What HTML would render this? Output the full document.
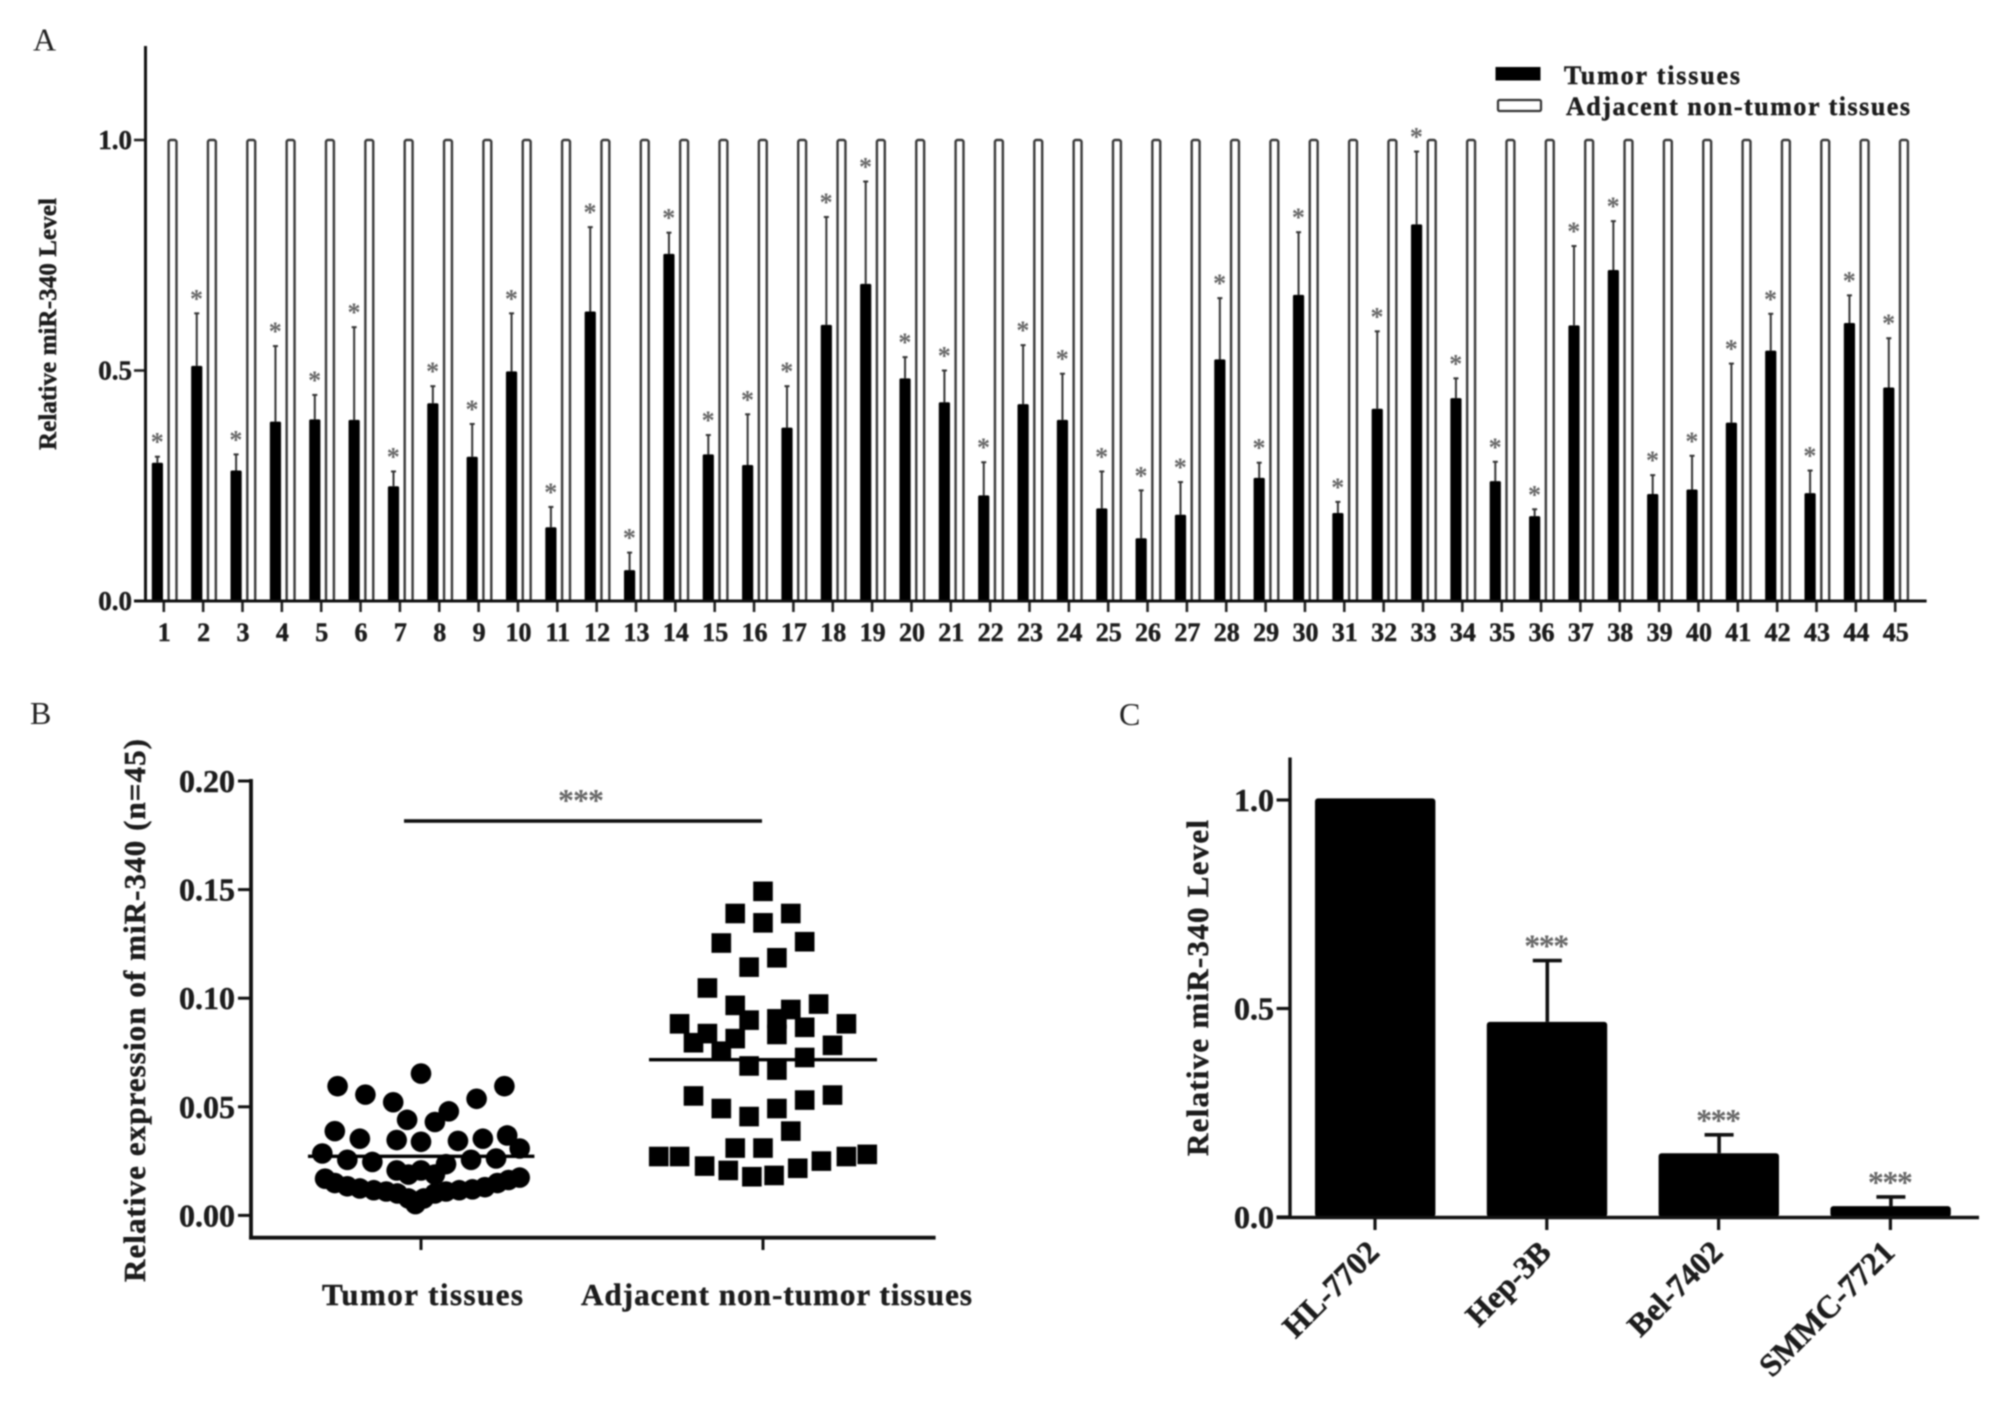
<!DOCTYPE html>
<html lang="en">
<head>
<meta charset="utf-8">
<title>miR-340 expression figure</title>
<style>
  html,body{margin:0;padding:0;background:#fff;}
  svg{display:block;filter:blur(0.9px);}
  text{font-family:"Liberation Serif",serif;}
  .b{font-weight:bold;fill:#1c1c1c;stroke:#1c1c1c;stroke-width:0.45px;}
  .star{font-weight:bold;fill:#666;}
  .letter{fill:#222;font-size:32px;}
</style>
</head>
<body>
<svg id="fig" xmlns="http://www.w3.org/2000/svg" width="2008" height="1417" viewBox="0 0 2008 1417">
  <rect x="0" y="0" width="2008" height="1417" fill="#fff"/>

  <text class="letter" x="33" y="50.5">A</text>
  <text class="letter" x="30" y="724">B</text>
  <text class="letter" x="1119" y="725">C</text>

  <g id="panelA">
    <text class="b" font-size="25" transform="translate(56,450) rotate(-90)" textLength="252" lengthAdjust="spacing">Relative miR-340 Level</text>
    <g>
      <rect x="1495.5" y="67" width="45" height="13.5" fill="#000"/>
      <text class="b" x="1564" y="84" font-size="26" textLength="176" lengthAdjust="spacing">Tumor tissues</text>
      <rect x="1498" y="100" width="43" height="11" fill="#fff" stroke="#333" stroke-width="2.2" rx="1.5"/>
      <text class="b" x="1566" y="115" font-size="26" textLength="344" lengthAdjust="spacing">Adjacent non-tumor tissues</text>
    </g>
  </g>

  <g id="panelB">
    <text class="b" font-size="31" transform="translate(145,1282) rotate(-90)" textLength="543" lengthAdjust="spacing">Relative expression of miR-340 (n=45)</text>
    <rect x="404" y="819.2" width="358" height="3.6" fill="#111"/>
    <text class="star" x="581" y="811" font-size="32" text-anchor="middle" textLength="46" lengthAdjust="spacing">***</text>
  </g>

  <g id="panelC">
    <text class="b" font-size="31" transform="translate(1208,1156) rotate(-90)" textLength="336" lengthAdjust="spacing">Relative miR-340 Level</text>
  </g>
</svg>

<script>
// ---- Panel A data ----
const aCategories = ["1","2","3","4","5","6","7","8","9","10","11","12","13","14","15","16","17","18","19","20","21","22","23","24","25","26","27","28","29","30","31","32","33","34","35","36","37","38","39","40","41","42","43","44","45"];
const aTumorValues = [0.30,0.51,0.283,0.389,0.394,0.393,0.249,0.429,0.313,0.498,0.16,0.628,0.067,0.753,0.318,0.295,0.376,0.599,0.688,0.483,0.431,0.229,0.427,0.393,0.201,0.136,0.187,0.524,0.267,0.664,0.191,0.417,0.817,0.44,0.26,0.184,0.598,0.718,0.232,0.242,0.387,0.543,0.234,0.603,0.463];
const aTumorUpper = [0.313,0.624,0.318,0.553,0.447,0.594,0.281,0.466,0.384,0.624,0.204,0.811,0.105,0.799,0.36,0.405,0.466,0.833,0.91,0.529,0.50,0.301,0.555,0.493,0.281,0.24,0.258,0.657,0.30,0.80,0.215,0.585,0.975,0.483,0.302,0.199,0.77,0.824,0.273,0.315,0.515,0.623,0.283,0.663,0.57];
const aAdjacentValues = [1,1,1,1,1,1,1,1,1,1,1,1,1,1,1,1,1,1,1,1,1,1,1,1,1,1,1,1,1,1,1,1,1,1,1,1,1,1,1,1,1,1,1,1,1];
const aTicks = ["0.0","0.5","1.0"];

// ---- Panel B data ----
const bTicks = ["0.00","0.05","0.10","0.15","0.20"];
const bCategories = ["Tumor tissues","Adjacent non-tumor tissues"];
const bTumorValues = [0.0653,0.0595,0.0595,0.0556,0.0537,0.0521,0.0479,0.044,0.043,0.0388,0.0368,0.0353,0.0353,0.0347,0.0343,0.0339,0.0285,0.0308,0.0256,0.0246,0.0256,0.0262,0.0236,0.0207,0.0207,0.0188,0.0188,0.0169,0.0149,0.0134,0.0124,0.0116,0.011,0.0101,0.0078,0.0052,0.0078,0.0101,0.011,0.0116,0.012,0.013,0.0149,0.0163,0.0174];
const bTumorSwarmSlots = [0,-6,6,-4,4,-2,2,-1,1,-6.2,6.2,-4.4,4.45,-1.75,2.66,0,-7.1,7.1,-5.3,-3.5,3.6,5.4,1.8,-1.75,0,-0.9,1,-6.9,-6.2,-5.3,-4.4,-3.4,-2.5,-1.7,-0.9,-0.4,0.2,1,1.8,2.75,3.7,4.6,5.5,6.3,7.1];
const bAdjacentValues = [0.1492,0.139,0.139,0.1347,0.1254,0.126,0.1186,0.1143,0.1047,0.0973,0.0967,0.0948,0.0882,0.0882,0.0899,0.0905,0.0866,0.0837,0.0833,0.0814,0.0795,0.0783,0.0756,0.0727,0.0688,0.0669,0.055,0.0554,0.0531,0.0492,0.0492,0.0455,0.0388,0.031,0.031,0.0271,0.0271,0.0281,0.0271,0.025,0.0217,0.0227,0.0207,0.0178,0.0184];
const bAdjacentSwarmSlots = [0,-2,2,0,-3,3,1,-1,-4,4,-2,2,6,-6,-1,1,3,-4,1,-2,-5,5,-3,3,-1,1,-5,5,3,-3,1,-1,2,-2,0,-7.5,-6,7.5,6,4.2,2.5,-4.2,-2.5,-0.8,0.8];
const bTumorMean = 0.0272;
const bAdjacentMean = 0.0717;

// ---- Panel C data ----
const cCategories = ["HL-7702","Hep-3B","Bel-7402","SMMC-7721"];
const cValues = [1.004,0.468,0.153,0.026];
const cUpper = [1.004,0.615,0.197,0.048];
const cTicks = ["0.0","0.5","1.0"];
const cStars = ["","***","***","***"];

const NS = "http://www.w3.org/2000/svg";

function add(parent, tag, attrs, text) {
  const el = document.createElementNS(NS, tag);
  for (const k in attrs) el.setAttribute(k, attrs[k]);
  if (text !== undefined) el.textContent = text;
  parent.appendChild(el);
  return el;
}

// ---- axis functions ----
const aY = v => 601 - v * 461;
const aX = i => 163.8 + i * 39.35;
const bY = v => 1215.4 - v * 2172;
const bX = i => 421 + i * 342;
const bSlot = s => s * 13.9;
const cY = v => 1217 - v * 417;
const cX = i => 1375 + i * 171.8;

// ---- Panel A ----
(function () {
  const g = document.getElementById("panelA");
  aCategories.forEach(function (c, i) {
    const tick = aX(i);
    const open = add(g, "rect", {x: tick + 4.8, y: aY(aAdjacentValues[i]), width: 7.9, height: aY(0) - aY(aAdjacentValues[i]), rx: 2, fill: "#fff", stroke: "#3a3a3a", "stroke-width": 2.4});
    
    

    const wx = tick - 6.4;
    const w = add(g, "line", {x1: wx, x2: wx, y1: aY(aTumorUpper[i]), y2: aY(aTumorValues[i]), stroke: "#333", "stroke-width": 2});
    
    
    const cap = add(g, "line", {x1: wx - 2.5, x2: wx + 2.5, y1: aY(aTumorUpper[i]), y2: aY(aTumorUpper[i]), stroke: "#333", "stroke-width": 2});
    
    

    const bar = add(g, "rect", {x: tick - 12, y: aY(aTumorValues[i]), width: 11.2, height: aY(0) - aY(aTumorValues[i]), rx: 1.5, fill: "#000"});
    
    

    const star = add(g, "text", {class: "star", x: tick - 6.6, y: aY(aTumorUpper[i]) - 6, "font-size": 26, "text-anchor": "middle"}, "*");
    
    

    const t = add(g, "line", {x1: tick, x2: tick, y1: 601, y2: 612, stroke: "#222", "stroke-width": 2.6});
    
    

    const lab = add(g, "text", {class: "b", x: tick + 0.5, y: 641, "font-size": 26, "text-anchor": "middle"}, c);
    
    
  });
  aTicks.forEach(function (s) {
    const v = parseFloat(s);
    const t = add(g, "line", {x1: 134, x2: 146, y1: aY(v), y2: aY(v), stroke: "#222", "stroke-width": 2.6});
    
    
    const lab = add(g, "text", {class: "b", x: 132, y: aY(v) + 9, "font-size": 27, "text-anchor": "end"}, s);
    
    
  });
  const yAxis = add(g, "line", {x1: 145.5, x2: 145.5, y1: 46, y2: 602.5, stroke: "#111", "stroke-width": 3});
  
  
  const xAxis = add(g, "line", {x1: 134, x2: 1926.6, y1: 601, y2: 601, stroke: "#111", "stroke-width": 3});
  
  
})();

// ---- Panel B ----
(function () {
  const g = document.getElementById("panelB");
  bTumorValues.forEach(function (v, i) {
    const p = add(g, "circle", {cx: bX(0) + bSlot(bTumorSwarmSlots[i]), cy: bY(v), r: 10.3, fill: "#000"});
    
    
  });
  bAdjacentValues.forEach(function (v, i) {
    const p = add(g, "rect", {x: bX(1) + bSlot(bAdjacentSwarmSlots[i]) - 9.8, y: bY(v) - 9.8, width: 19.6, height: 19.6, fill: "#000"});
    
    
  });
  const m1 = add(g, "line", {x1: bX(0) - 113, x2: bX(0) + 113.4, y1: bY(bTumorMean), y2: bY(bTumorMean), stroke: "#000", "stroke-width": 3.4});
  
  
  const m2 = add(g, "line", {x1: bX(1) - 114, x2: bX(1) + 114, y1: bY(bAdjacentMean), y2: bY(bAdjacentMean), stroke: "#000", "stroke-width": 3.4});
  
  

  bTicks.forEach(function (s) {
    const v = parseFloat(s);
    const t = add(g, "line", {x1: 238, x2: 251, y1: bY(v), y2: bY(v), stroke: "#111", "stroke-width": 3});
    
    
    const lab = add(g, "text", {class: "b", x: 235, y: bY(v) + 11, "font-size": 32, "text-anchor": "end"}, s);
    
    
  });
  const labelSpan = [[322, 201], [581, 391]];
  bCategories.forEach(function (c, i) {
    const t = add(g, "line", {x1: bX(i), x2: bX(i), y1: 1238, y2: 1250, stroke: "#111", "stroke-width": 3});
    
    
    const lab = add(g, "text", {class: "b", x: labelSpan[i][0], y: 1305, "font-size": 31, textLength: labelSpan[i][1], lengthAdjust: "spacing"}, c);
    
    
  });
  const yAxis = add(g, "line", {x1: 251, x2: 251, y1: 779, y2: 1239.5, stroke: "#111", "stroke-width": 3.8});
  
  
  const xAxis = add(g, "line", {x1: 249, x2: 935.6, y1: 1237.7, y2: 1237.7, stroke: "#111", "stroke-width": 3.8});
  
  
})();

// ---- Panel C ----
(function () {
  const g = document.getElementById("panelC");
  cCategories.forEach(function (c, i) {
    const cx = cX(i) + 0.5;
    if (cUpper[i] > cValues[i]) {
      const w = add(g, "line", {x1: cx, x2: cx, y1: cY(cUpper[i]), y2: cY(cValues[i]), stroke: "#111", "stroke-width": 3.6});
      
      
      const cap = add(g, "line", {x1: cx - 14.5, x2: cx + 14.5, y1: cY(cUpper[i]), y2: cY(cUpper[i]), stroke: "#111", "stroke-width": 3.6});
      
      
    }
    const bar = add(g, "rect", {x: cX(i) - 60, y: cY(cValues[i]), width: 120.4, height: cY(0) - cY(cValues[i]), rx: 3, fill: "#000"});
    
    
    if (cStars[i]) {
      const st = add(g, "text", {class: "star", x: cx - 0.5, y: cY(cUpper[i]) - 4, "font-size": 32, "text-anchor": "middle", textLength: 45, lengthAdjust: "spacing"}, cStars[i]);
      
      
    }
    const t = add(g, "line", {x1: cX(i), x2: cX(i), y1: 1217, y2: 1230, stroke: "#111", "stroke-width": 3.2});
    
    
    const lab = add(g, "text", {class: "b", "font-size": 32, "text-anchor": "end", transform: "translate(" + (cX(i) + 6) + ",1254) rotate(-45)"}, c);
    
    
  });
  cTicks.forEach(function (s) {
    const v = parseFloat(s);
    const t = add(g, "line", {x1: 1276.6, x2: 1290, y1: cY(v), y2: cY(v), stroke: "#111", "stroke-width": 3.2});
    
    
    const lab = add(g, "text", {class: "b", x: 1274, y: cY(v) + 11, "font-size": 32, "text-anchor": "end"}, s);
    
    
  });
  const yAxis = add(g, "line", {x1: 1290, x2: 1290, y1: 757.5, y2: 1219, stroke: "#111", "stroke-width": 3.4});
  
  
  const xAxis = add(g, "line", {x1: 1276.6, x2: 1979, y1: 1217.5, y2: 1217.5, stroke: "#111", "stroke-width": 3.4});
  
  
})();
</script>
</body>
</html>
